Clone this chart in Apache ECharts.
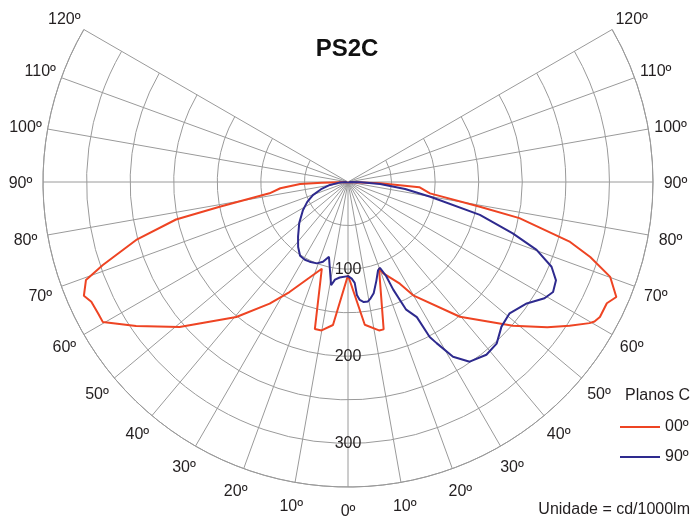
<!DOCTYPE html>
<html>
<head>
<meta charset="utf-8">
<script src="https://cdn.jsdelivr.net/npm/echarts@6/dist/echarts.min.js"></script>
<style>
  html, body { margin: 0; padding: 0; background: #fff; }
  #chart { width: 694px; height: 519px; }
</style>
</head>
<body>
<div id="chart"></div>
<script>
// gamma angles (deg, negative = left half) and intensity (cd/1000lm)
var c0Angle = [-90, -88.5, -87.6, -84.7, -81.8, -79.1, -77.7, -74.7, -71.3, -69.5, -66.7, -65, -62.3, -60.3,
  -55.8, -49.3, -39.6, -32.8, -28, -16.8, -12.7, -10.1, -6, 0, 6.7, 11.8, 13.6, 19.8, 21, 27, 29.9, 39.7,
  48.9, 53.9, 57, 59.7, 60.5, 61.8, 64.9, 66.8, 70.1, 72.8, 74.9, 78.1, 79.4, 82.1, 85.8, 87.6, 90];
var c0Value = [0, 30, 55, 78, 91, 150, 202, 252, 297, 321, 330, 325, 324, 324,
  294, 255, 201, 166, 143, 104, 173, 173, 165, 107, 165, 174, 174, 105, 112, 131, 150, 201,
  251, 283, 303, 321, 325, 328, 328, 335, 320, 291, 264, 201, 154, 95, 82, 37, 0];

var c90Angle = [-90, -86, -80.7, -75, -69.6, -64, -58, -50, -42.4, -37.5, -33, -29, -25.7, -21, -17.4,
  -14.3, -13.5, -9.3, -7.6, -5, 0, 2.2, 3.8, 4.5, 5.7, 7.5, 9.5, 11, 13, 16, 18.8, 20.4, 22.1, 22.8,
  24.5, 27, 27.8, 28.8, 31, 34.1, 38.7, 42.6, 46.7, 50.9, 55.8, 59.4, 61.8, 64.7, 67.4, 70.2, 72.7,
  76, 79.8, 83, 86.4, 88.5, 90];
var c90Value = [0, 10, 21, 32, 43, 52, 61, 73, 85, 94, 101, 102, 101.5, 100, 96,
  88.5, 88, 120, 113, 110, 108, 111, 116, 130, 136, 139, 139, 136, 131, 118, 107, 105, 117, 134,
  161, 174, 201, 211, 234, 249, 254, 252, 242, 239, 248, 262, 267, 264, 253, 230, 198,
  156, 96, 66, 37, 15, 0];

var seriesNames = ['00º', '90º'];
var radialLabels = [100, 200, 300];

var gridColor = '#9a9a9a';
var textColor = '#231f20';
var font = 'Liberation Sans';

function zip(angles, values) {
  return angles.map(function (a, i) { return [values[i], a]; });
}

var myChart = echarts.init(document.getElementById('chart'));

var option = {
  animation: false,
  title: [
    { text: 'PS2C', left: 'center', top: 37, padding: 0,
      textStyle: { fontSize: 24, fontWeight: 'bold', color: '#111', fontFamily: font } },
    { text: 'Planos C', right: 4, top: 388, padding: 0,
      textStyle: { fontSize: 16, fontWeight: 'normal', color: textColor, fontFamily: font } },
    { text: 'Unidade = cd/1000lm', right: 4, top: 502, padding: 0,
      textStyle: { fontSize: 16, fontWeight: 'normal', color: textColor, fontFamily: font } }
  ],
  legend: {
    orient: 'vertical', left: 620, top: 419, padding: 0,
    icon: 'rect', itemWidth: 40, itemHeight: 2, itemGap: 14,
    data: seriesNames,
    textStyle: { fontSize: 16, color: textColor, fontFamily: font }
  },
  polar: [
    { center: [348, 182], radius: 305 },
    { center: [348, 182], radius: 305 }
  ],
  angleAxis: [{
    polarIndex: 0,
    type: 'value', min: -120, max: 120, interval: 10,
    startAngle: 150, endAngle: 390, clockwise: false,
    axisLine: { lineStyle: { color: gridColor, width: 1 } },
    axisTick: { show: false },
    axisLabel: {
      // tiny box so every label is centred on its point, like the original
      margin: 22,
      formatter: function (v) { return '{a|' + Math.abs(v) + 'º}'; },
      rich: {
        a: { width: 1, height: 1, lineHeight: 1, align: 'center', verticalAlign: 'middle',
          padding: [4, 0, 0, 0],
          color: textColor, fontSize: 16, fontFamily: font }
      }
    },
    splitLine: { show: true, lineStyle: { color: gridColor, width: 1 } }
  }, {
    polarIndex: 1,
    type: 'value', min: 0, max: 360, startAngle: 270,
    show: false
  }],
  radiusAxis: [{
    polarIndex: 0,
    type: 'value', min: 0, max: 350, interval: 50,
    axisLine: { show: false }, axisTick: { show: false }, axisLabel: { show: false },
    splitLine: { show: true, lineStyle: { color: gridColor, width: 1 } }
  }, {
    polarIndex: 1,
    type: 'value', min: 0, max: 350, interval: 100,
    axisLine: { show: false }, axisTick: { show: false }, splitLine: { show: false },
    axisLabel: {
      margin: 0, align: 'center', verticalAlign: 'middle', padding: [6, 0, 0, 0],
      color: textColor, fontSize: 16, fontFamily: font,
      formatter: function (v) { return radialLabels.indexOf(v) >= 0 ? String(v) : ''; }
    }
  }],
  series: [{
    name: seriesNames[0], type: 'line', coordinateSystem: 'polar', polarIndex: 0,
    symbol: 'none', smooth: false, color: '#ee4423',
    lineStyle: { width: 2, color: '#ee4423' },
    data: zip(c0Angle, c0Value)
  }, {
    name: seriesNames[1], type: 'line', coordinateSystem: 'polar', polarIndex: 0,
    symbol: 'none', smooth: false, color: '#2e2a8e',
    lineStyle: { width: 2, color: '#2e2a8e' },
    data: zip(c90Angle, c90Value)
  }]
};

myChart.setOption(option);
</script>
</body>
</html>
